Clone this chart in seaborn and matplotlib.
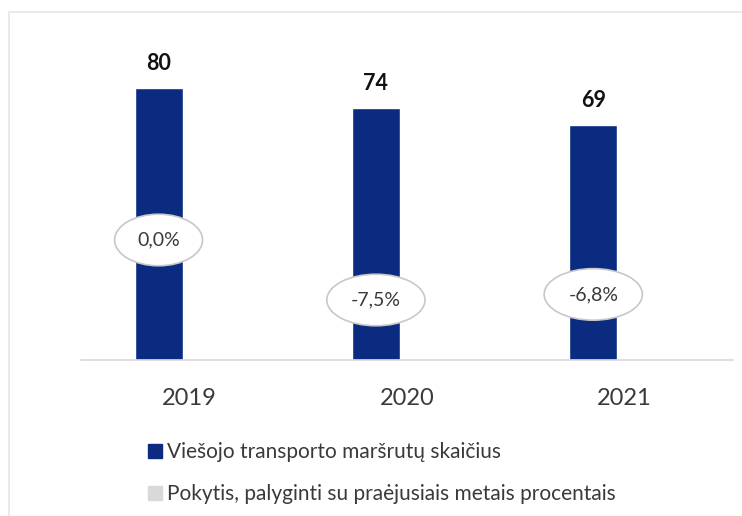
import matplotlib
matplotlib.use("Agg")
import matplotlib.pyplot as plt
from matplotlib.patches import Rectangle
from matplotlib.lines import Line2D
import seaborn as sns
import pandas as pd

years = ["2019", "2020", "2021"]
routes = [80, 74, 69]
change_pct = [0.0, -7.5, -6.8]
series_names = ["Viešojo transporto maršrutų skaičius",
                "Pokytis, palyginti su praėjusiais metais procentais"]

BAR = "#0b2b80"
GREY_SQ = "#d9d9d9"
TXT = "#3a3a3a"

sns.set_theme(style="white")
plt.rcParams["font.family"] = ["Lato", "DejaVu Sans"]

fig = plt.figure(figsize=(7.42, 5.16), dpi=100)
ax = fig.add_axes([81 / 742, 1 - 360 / 516, 652 / 742, 320 / 516])

df = pd.DataFrame({
    "year": years * 2,
    "value": routes + [float("nan")] * 3,
    "series": [series_names[0]] * 3 + [series_names[1]] * 3,
})
W = 0.572
sns.barplot(data=df, x="year", y="value", hue="series", hue_order=series_names,
            palette=[BAR, GREY_SQ], dodge=True, width=W, gap=0.23,
            legend=False, ax=ax, saturation=1)

for c in ax.containers:
    ax.bar_label(c, fmt="%d", padding=10, fontsize=15.5, fontweight="bold", color="#111111")

ax.set_ylim(0, 94.1)
ax.set_xlim(-0.5, 2.5)
ax.set_xlabel("")
ax.set_ylabel("")
ax.set_yticks([])
for s in ["top", "right", "left"]:
    ax.spines[s].set_visible(False)
ax.spines["bottom"].set_color("#d9d9d9")
ax.spines["bottom"].set_linewidth(1.2)
ax.tick_params(axis="x", which="major", length=0, pad=20, labelsize=17, labelcolor=TXT)
ax.set_xticks([-0.5, 0.5, 1.5, 2.5], minor=True)
ax.tick_params(axis="x", which="minor", length=5, width=1.2, color="#d9d9d9", direction="out")

# percent change on secondary axis
ax2 = ax.twinx()
ax2.set_ylim(-15, 25)
ax2.set_yticks([])
for s in ax2.spines.values():
    s.set_visible(False)
xs = [i - W / 4 for i in range(len(years))]
ax2.plot(xs, change_pct, linestyle="none", marker="")
for x, p in zip(xs, change_pct):
    ax2.text(x, p, f"{p:.1f}%".replace(".", ","), ha="center", va="center",
             fontsize=14, color=TXT,
             bbox=dict(boxstyle="ellipse,pad=0.5", fc="white", ec="#c8c8c8", lw=1.2))

# legend
handles = [Line2D([], [], marker="s", linestyle="none", markersize=10,
                  markerfacecolor=BAR, markeredgecolor=BAR),
           Line2D([], [], marker="s", linestyle="none", markersize=10,
                  markerfacecolor=GREY_SQ, markeredgecolor=GREY_SQ)]
fig.legend(handles, series_names, loc="upper left",
           bbox_to_anchor=(136 / 742, 1 - 434 / 516), frameon=False,
           fontsize=15, labelcolor=TXT, handletextpad=0.1, handlelength=1.0,
           labelspacing=1.05, borderaxespad=0)

# faint frame around chart area
fig.patches.append(Rectangle((9 / 742, -0.1), 1.2, 1 - 12 / 516 + 0.1,
                             transform=fig.transFigure, fill=False,
                             ec="#e6e6e6", lw=1.2, zorder=-1))

fig.savefig("out.png", dpi=100, facecolor="white")
